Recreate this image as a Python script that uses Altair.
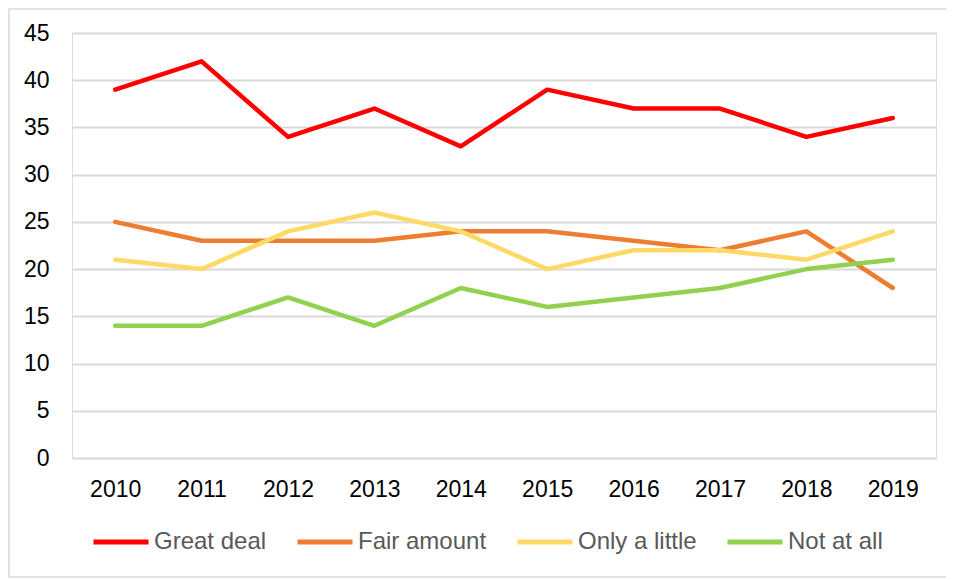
import altair as alt
import pandas as pd

years = ["2010", "2011", "2012", "2013", "2014", "2015", "2016", "2017", "2018", "2019"]
great_deal = [39, 42, 34, 37, 33, 39, 37, 37, 34, 36]
fair_amount = [25, 23, 23, 23, 24, 24, 23, 22, 24, 18]
only_a_little = [21, 20, 24, 26, 24, 20, 22, 22, 21, 24]
not_at_all = [14, 14, 17, 14, 18, 16, 17, 18, 20, 21]

series_names = ["Great deal", "Fair amount", "Only a little", "Not at all"]
series_colors = ["#FF0000", "#ED7D31", "#FFD966", "#92D050"]
y_ticks = [0, 5, 10, 15, 20, 25, 30, 35, 40, 45]

rows = []
for name, vals in zip(series_names, [great_deal, fair_amount, only_a_little, not_at_all]):
    for yr, v in zip(years, vals):
        rows.append({"Year": yr, "Series": name, "Value": v})
df = pd.DataFrame(rows)

FONT = "Liberation Sans"

frame = alt.Chart(pd.DataFrame({"a": [0]})).mark_rect(
    fill=None, stroke="#d9d9d9", strokeWidth=1.5
).encode(
    x=alt.value(-63), x2=alt.value(1000), y=alt.value(-24), y2=alt.value(544)
)

lines = alt.Chart(df).mark_line(strokeWidth=4.5, strokeCap="round", strokeJoin="round").encode(
    x=alt.X("Year:O", sort=years,
            scale=alt.Scale(type="point", padding=0.5),
            axis=alt.Axis(title=None, labelAngle=0, domain=False, ticks=False,
                          labelPadding=20, labelFontSize=23, labelFont=FONT,
                          labelColor="#000000", grid=False)),
    y=alt.Y("Value:Q", scale=alt.Scale(domain=[0, 45], nice=False),
            axis=alt.Axis(title=None, values=y_ticks, domain=False, ticks=False,
                          labelPadding=23, labelFontSize=23, labelFont=FONT,
                          labelColor="#000000", gridColor="#d9d9d9", gridWidth=2)),
    color=alt.Color("Series:N", sort=series_names,
                    scale=alt.Scale(domain=series_names, range=series_colors),
                    legend=alt.Legend(title=None, orient="none", direction="horizontal",
                                      legendX=19, legendY=479, symbolType="stroke",
                                      symbolSize=3025, symbolStrokeWidth=5,
                                      labelFontSize=24, labelFont=FONT,
                                      labelColor="#595959", labelOffset=3,
                                      columnPadding=20, padding=0)),
    order=alt.Order("Series:N")
)

chart = alt.layer(frame, lines).properties(
    width=864, height=425,
    padding={"left": 64, "top": 25, "right": 10, "bottom": 122},
    autosize=alt.AutoSizeParams(type="none")
).configure_view(stroke=None).configure(background="#ffffff")

chart.save("out.html", embed_options={"renderer": "svg", "actions": False})
